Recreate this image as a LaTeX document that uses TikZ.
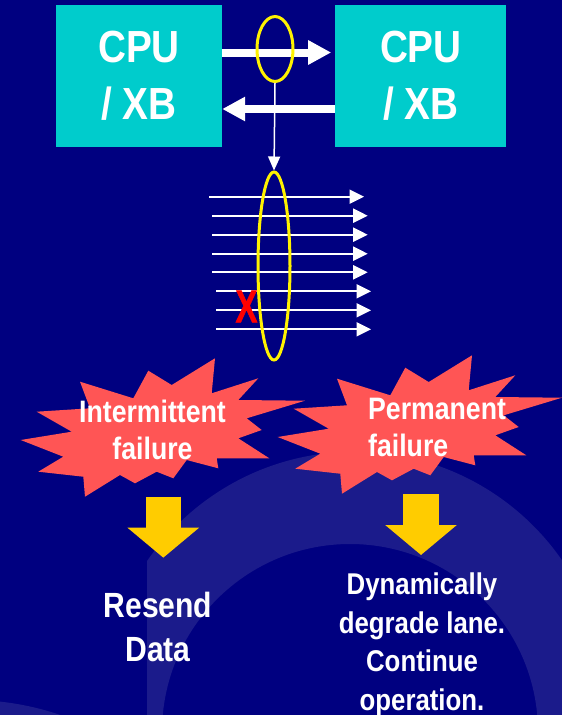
\documentclass[tikz,border=0pt]{standalone}
\usepackage{fontspec}
\setsansfont{Liberation Sans}[FakeStretch=0.86]
\newfontfamily\faultfont{Liberation Sans Bold}[FakeBold=1.2]
\usetikzlibrary{arrows.meta,positioning,shapes.geometric}
\definecolor{slidebg}{HTML}{000080}
\definecolor{ringblue}{HTML}{1B1B8B}
\definecolor{boxcyan}{HTML}{00CCCC}
\definecolor{burstred}{HTML}{FF5555}
\definecolor{dropyellow}{HTML}{FFCC00}
\tikzstyle{cpu} = [rectangle, fill=boxcyan, text=white, minimum width=166pt,
    minimum height=142pt, inner sep=0pt, align=center,
    font=\sffamily\bfseries\fontsize{45}{57}\selectfont]
\tikzstyle{hoop} = [ellipse, draw=yellow, line width=3pt, inner sep=0pt]
\tikzstyle{wide arrow} = [white, line width=8pt, -{Triangle[length=23pt,width=23pt]}]
\tikzstyle{lane} = [white, line width=2pt, -{Triangle[length=14.5pt,width=14pt]}]
\tikzstyle{probe} = [white, line width=1.5pt, -{Triangle[length=14pt,width=12pt]}]
\tikzstyle{drop} = [dropyellow, line width=35.5pt, -{Triangle[length=30pt,width=70pt]}]
\tikzstyle{failtext} = [text=white, inner sep=0pt,
    font=\sffamily\bfseries\fontsize{31}{37}\selectfont]
\tikzstyle{result} = [text=white, inner sep=0pt, align=center]
\newcommand{\burstoutline}{(215,358.3) -- (211.7,393.3) -- (258.3,378.3) -- (238.3,400)
  -- (305,400.7) -- (246.7,418.3) -- (261.7,430) -- (238.3,438.3) -- (269.3,458.3)
  -- (216.7,458.3) -- (218.3,468.3) -- (186.7,460) -- (173.3,478.3) -- (156.7,471.7)
  -- (135,483.3) -- (120,475) -- (85,496.7) -- (83.3,476.7) -- (38.3,471.7)
  -- (63.3,456.7) -- (20.7,440) -- (71.7,431.7) -- (36.7,411.7) -- (90,408.3)
  -- (80,381.7) -- (133.3,398.3) -- (148.3,370.7) -- (171.7,385) -- cycle}
\begin{document}
\begin{tikzpicture}[x=1pt,y=-1pt]
  \useasboundingbox (0,0) rectangle (562,715);
  % slide background
  \begin{scope}
    \clip (0,0) rectangle (562,715);
    \fill[slidebg] (0,0) rectangle (562,715);
    \begin{scope}
      \clip (147,0) rectangle (562,715);
      \fill[ringblue, even odd rule] (354.8,703.7) circle[radius=252pt]
                                     (350,732) circle[radius=188pt];
    \end{scope}
    \fill[ringblue] (-30,978) circle[radius=278pt];
  \end{scope}

  \node[cpu]                    (cpuA) at (139,76)        {CPU\\/ XB};
  \node[cpu,minimum width=171pt] (cpuB) [right=113pt of cpuA] {CPU\\/ XB};

  \draw[wide arrow,shorten >=4pt] ([yshift=23.5pt]cpuA.east) -- ([yshift=23.5pt]cpuB.west);
  \draw[wide arrow] ([yshift=-33pt]cpuB.west) -- ([yshift=-33pt]cpuA.east);

  \node[hoop,minimum width=36pt,minimum height=65pt] (tap) at (275,49) {};

  % the lanes
  \foreach \y/\xa/\xb [count=\i] in {196.7/209/364, 215.7/212/367.7, 234.7/212/367.7,
      253.7/212/367.7, 272.3/212/367.7, 291.3/216/371, 310.3/216/371, 329.3/216/371}{
    \coordinate (in\i) at (\xa,\y);
    \coordinate (out\i) at (\xb,\y);
    \draw[lane] (in\i) -- (out\i);
  }
  \node[text=red, inner sep=0pt, xscale=0.72,
        font=\faultfont\fontsize{46}{46}\selectfont] (fault) at (246.5,306.5) {X};

  \node[hoop,minimum width=32pt,minimum height=188pt] (bundle) at (274,266) {};
  \draw[probe] (tap.south) -- (bundle.north);

  % failure kinds
  \fill[burstred] \burstoutline;
  \fill[burstred,shift={(257,-3)}] \burstoutline;
  \node[failtext,align=center]         (failA) at (152.5,430.4) {Intermittent\\failure};
  \node[failtext,align=left,anchor=west] (failB) at (368,427.6)  {Permanent\\failure};

  \coordinate (dropA) at (163.3,496.7);
  \coordinate (dropAend) at (163.3,557.7);
  \coordinate (dropB) at (421,494);
  \coordinate (dropBend) at (421,555);
  \draw[drop] (dropA) -- (dropAend);
  \draw[drop] (dropB) -- (dropBend);

  \node[result,font=\sffamily\bfseries\fontsize{35}{44}\selectfont] (resA) at (158,627)
       {Resend\\Data};
  \node[result,font=\sffamily\bfseries\fontsize{30}{38.5}\selectfont] (resB) at (422,644.7)
       {Dynamically\\degrade lane.\\Continue\\operation.};
\end{tikzpicture}
\end{document}
